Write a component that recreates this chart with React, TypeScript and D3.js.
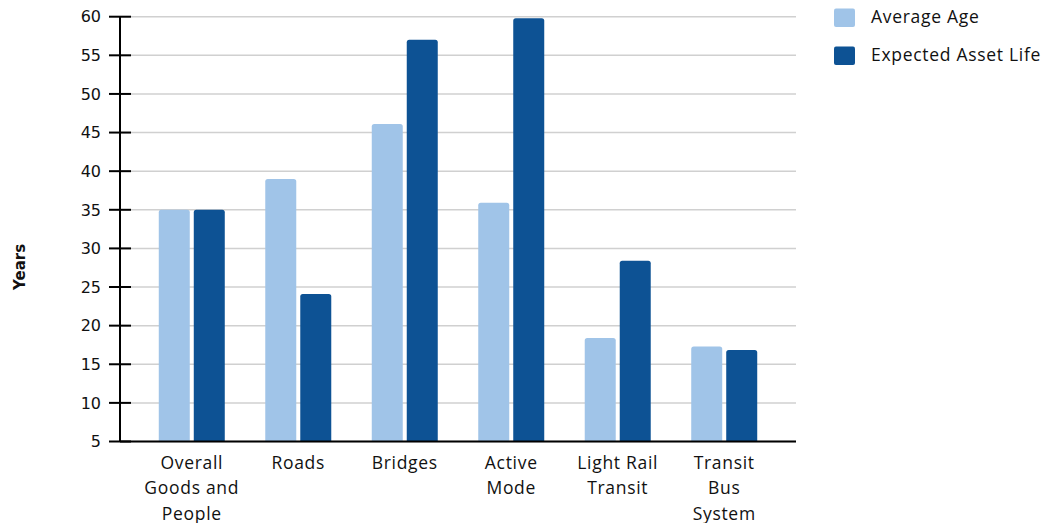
import React from "react";
import * as d3 from "d3";

const categories: string[][] = [
  ["Overall", "Goods and", "People"],
  ["Roads"],
  ["Bridges"],
  ["Active", "Mode"],
  ["Light Rail", "Transit"],
  ["Transit", "Bus", "System"],
];
const averageAge = [35, 39, 46.1, 35.9, 18.4, 17.3];
const expectedLife = [35, 24.1, 57, 59.8, 28.4, 16.85];
const yTicks = [5, 10, 15, 20, 25, 30, 35, 40, 45, 50, 55, 60];
const seriesNames = ["Average Age", "Expected Asset Life"];
const colors = ["#a0c4e8", "#0d5294"];

const W = 1048;
const H = 523;
const left = 120;
const right = 796;
const top = 16.7;
const bottom = 441.5;

function topRounded(x: number, y: number, w: number, h: number, r: number) {
  const p = d3.path();
  p.moveTo(x, y + h);
  p.lineTo(x, y + r);
  p.quadraticCurveTo(x, y, x + r, y);
  p.lineTo(x + w - r, y);
  p.quadraticCurveTo(x + w, y, x + w, y + r);
  p.lineTo(x + w, y + h);
  p.closePath();
  return p.toString();
}

export default function App() {
  const y = d3.scaleLinear().domain([5, 60]).range([bottom, top]);
  const x = d3
    .scaleBand<number>()
    .domain(d3.range(categories.length))
    .range([left, right])
    .paddingInner(0)
    .paddingOuter(0.174);
  const barW = 31;
  const gap = 4;
  const series = [averageAge, expectedLife];

  return (
    <svg
      width={W}
      height={H}
      style={{ position: "absolute", left: 0, top: 0 }}
      fontFamily="'Open Sans', sans-serif"
    >
      {/* gridlines */}
      {yTicks.map((t) => (
        <line
          key={"g" + t}
          x1={left}
          x2={right}
          y1={y(t)}
          y2={y(t)}
          stroke="#d0d0d0"
          strokeWidth={1.5}
        />
      ))}
      {/* bars */}
      {categories.map((_, i) => {
        const c = (x(i) as number) + x.bandwidth() / 2;
        return series.map((s, k) => {
          const bx = k === 0 ? c - gap / 2 - barW : c + gap / 2;
          const by = y(s[i]);
          return (
            <path
              key={`b${i}-${k}`}
              d={topRounded(bx, by, barW, bottom - by, 2.5)}
              fill={colors[k]}
            />
          );
        });
      })}
      {/* y axis */}
      <line x1={left} x2={left} y1={top} y2={bottom} stroke="#000" strokeWidth={2} />
      {yTicks.map((t) => (
        <g key={"t" + t}>
          <line x1={left - 11} x2={left + 11} y1={y(t)} y2={y(t)} stroke="#000" strokeWidth={2} />
          <text
            x={101}
            y={y(t)}
            dy="0.36em"
            textAnchor="end"
            fontFamily="DejaVu Sans, sans-serif"
            fontSize={16}
            fill="#111"
          >
            {t}
          </text>
        </g>
      ))}
      {/* x axis */}
      <line x1={left} x2={right} y1={bottom} y2={bottom} stroke="#000" strokeWidth={2} />
      {categories.map((lines, i) => {
        const c = (x(i) as number) + x.bandwidth() / 2;
        return (
          <text
            key={"c" + i}
            textAnchor="middle"
            fontSize={17.5}
            letterSpacing={0.7}
            fill="#111"
          >
            {lines.map((l, j) => (
              <tspan key={j} x={c} y={468.5 + j * 25.5}>
                {l}
              </tspan>
            ))}
          </text>
        );
      })}
      {/* y axis title */}
      <text
        transform={`translate(25,${y(27.6)}) rotate(-90)`}
        textAnchor="middle"
        fontFamily="DejaVu Sans, sans-serif"
        fontWeight="bold"
        fontSize={15}
        fill="#111"
      >
        Years
      </text>
      {/* legend */}
      {seriesNames.map((n, k) => (
        <g key={"l" + k}>
          <rect x={834} y={8.5 + k * 38} width={21} height={18.5} rx={2} fill={colors[k]} />
          <text x={871} y={23 + k * 38} fontSize={17.5} letterSpacing={0.7} fill="#111">
            {n}
          </text>
        </g>
      ))}
    </svg>
  );
}
